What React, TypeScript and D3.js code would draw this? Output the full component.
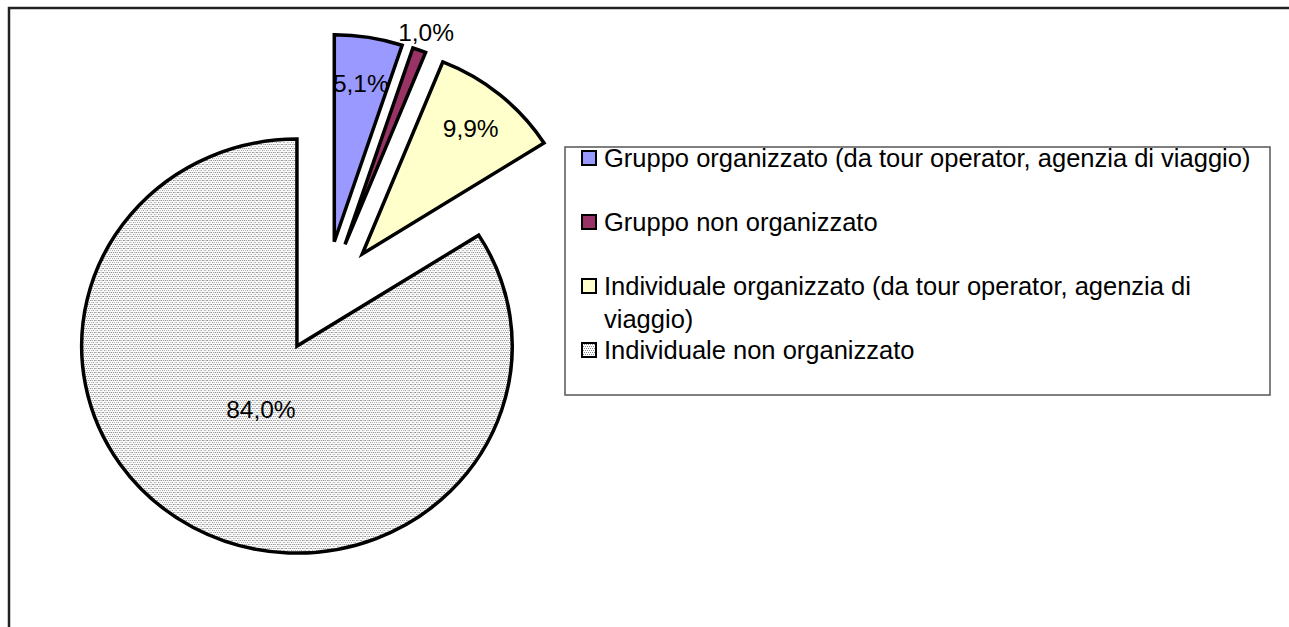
import React from "react";
import * as d3 from "d3";

// ---- data ----
const categories = [
  "Gruppo organizzato (da tour operator, agenzia di viaggio)",
  "Gruppo non organizzato",
  "Individuale organizzato (da tour operator, agenzia di viaggio)",
  "Individuale non organizzato",
];
const values = [5.1, 1.0, 9.9, 84.0];
const fills = ["#9999FF", "#993366", "#FFFFCC", "url(#dots)"];

// ---- layout ----
const W = 1289;
const H = 627;
const FONT = "'Liberation Sans', Arial, sans-serif";
const center = { x: 325, y: 297 };
const radius = 207;
const sx = 1.04;
const explode = 56;
const labelRadii = [160, 226, 163, 72];
const labelFont = 24.5;
const legendFont = 25.5;
const legendBox = { x: 565, y: 147, w: 705, h: 248 };
const legendTextX = 604;
const legendFirstY = 158;
const legendPitch = 64;
const legendLineH = 33;
const legendMaxW = 660;

const fmt = (v: number) => d3.format(".1f")(v).replace(".", ",") + "%";

function measure(text: string, size: number): number {
  const c = document.createElement("canvas").getContext("2d");
  if (!c) return text.length * size * 0.5;
  c.font = `${size}px 'Liberation Sans', Arial, sans-serif`;
  return c.measureText(text).width;
}

function wrap(text: string, maxW: number, size: number): string[] {
  const words = text.split(" ");
  const lines: string[] = [];
  let cur = "";
  for (const w of words) {
    const t = cur ? cur + " " + w : w;
    if (measure(t, size) > maxW && cur) {
      lines.push(cur);
      cur = w;
    } else cur = t;
  }
  if (cur) lines.push(cur);
  return lines;
}

export default function App() {
  const pie = d3
    .pie<number>()
    .sort(null)
    .value((d) => d)
    .startAngle(0)
    .endAngle(2 * Math.PI);
  const arcs = pie(values);
  const arc = d3.arc<d3.PieArcDatum<number>>().innerRadius(0).outerRadius(radius);

  return (
    <svg
      width={W}
      height={H}
      style={{ position: "absolute", left: 0, top: 0, display: "block", background: "#fff" }}
    >
      <defs>
        <pattern id="dots" patternUnits="userSpaceOnUse" width={4} height={4}>
          <rect width={4} height={4} fill="#ffffff" />
          <rect x={0} y={0} width={1} height={1} fill="#8c8c8c" shapeRendering="crispEdges" />
          <rect x={2} y={0} width={1} height={1} fill="#8c8c8c" shapeRendering="crispEdges" />
          <rect x={1} y={2} width={1} height={1} fill="#8c8c8c" shapeRendering="crispEdges" />
          <rect x={3} y={2} width={1} height={1} fill="#8c8c8c" shapeRendering="crispEdges" />
        </pattern>
      </defs>
      <rect x={0} y={0} width={W} height={H} fill="#fff" />
      {/* outer chart frame */}
      <rect x={9} y={8} width={W + 20} height={H + 20} fill="none" stroke="#222" strokeWidth={2.5} />

      <g transform={`translate(${center.x},${center.y}) scale(${sx},1)`}>
        {arcs.map((a, i) => {
          const mid = (a.startAngle + a.endAngle) / 2;
          const dx = explode * Math.sin(mid);
          const dy = -explode * Math.cos(mid);
          return (
            <path
              key={i}
              d={arc(a) || ""}
              transform={`translate(${dx},${dy})`}
              fill={fills[i]}
              stroke="#000"
              strokeWidth={3.5}
              strokeLinejoin="miter"
              vectorEffect="non-scaling-stroke"
            />
          );
        })}
      </g>

      {arcs.map((a, i) => {
        const mid = (a.startAngle + a.endAngle) / 2;
        const r = explode + labelRadii[i];
        const x = center.x + sx * r * Math.sin(mid);
        const y = center.y - r * Math.cos(mid);
        return (
          <text
            key={i}
            x={x}
            y={y}
            dy="0.35em"
            textAnchor="middle"
            fontFamily={FONT}
            fontSize={labelFont}
            fill="#000"
          >
            {fmt(values[i])}
          </text>
        );
      })}

      {/* legend */}
      <rect
        x={legendBox.x}
        y={legendBox.y}
        width={legendBox.w}
        height={legendBox.h}
        fill="#fff"
        stroke="#555"
        strokeWidth={1.5}
      />
      {categories.map((c, i) => {
        const lines = wrap(c, legendMaxW, legendFont);
        const yc = legendFirstY + i * legendPitch;
        return (
          <g key={i}>
            <rect
              x={582}
              y={yc - 7}
              width={14}
              height={14}
              fill={fills[i]}
              stroke="#000"
              strokeWidth={2}
            />
            <text x={legendTextX} y={yc} fontFamily={FONT} fontSize={legendFont} fill="#000">
              {lines.map((l, j) => (
                <tspan key={j} x={legendTextX} dy={j === 0 ? "0.35em" : legendLineH}>
                  {l}
                </tspan>
              ))}
            </text>
          </g>
        );
      })}
    </svg>
  );
}
